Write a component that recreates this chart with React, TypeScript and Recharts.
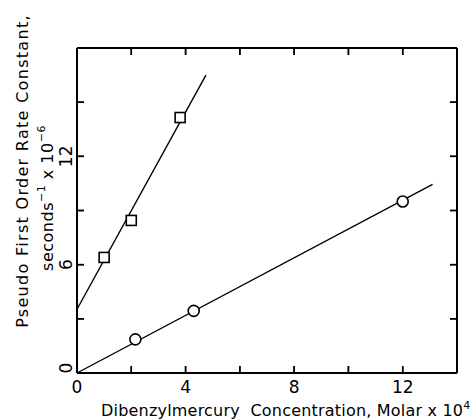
import React from "react";
import { ComposedChart, Scatter, XAxis, YAxis, Label, ReferenceLine } from "recharts";

// axis ticks (all drawn inward) and the ones that carry a number
const xTicks = [0, 2, 4, 6, 8, 10, 12, 14];
const xLabeled = [0, 4, 8, 12];
const yTicks = [0, 3, 6, 9, 12, 15, 18];
const yLabeled = [0, 6, 12];

// measured points
const squarePoints = [
  { x: 1.0, y: 6.4 },
  { x: 2.0, y: 8.45 },
  { x: 3.8, y: 14.15 },
];
const circlePoints = [
  { x: 2.15, y: 1.86 },
  { x: 4.3, y: 3.44 },
  { x: 12.0, y: 9.5 },
];

// straight lines drawn through each set
const squareFit = [
  { x: 0, y: 3.53 },
  { x: 4.75, y: 16.5 },
];
const circleFit = [
  { x: 0, y: 0 },
  { x: 13.1, y: 10.45 },
];

const X_MAX = 14;
const Y_MAX = 18;
// inward tick length, in axis units (about 7px)
const TICK_DX = 0.26;
const TICK_DY = 0.39;

const FONT = "'DejaVu Sans', sans-serif";
const TICK_LEN = 7;

const BottomTick = (props: any) => {
  const { x, y, payload } = props;
  const show = xLabeled.includes(payload.value);
  return (
    <g>
      <line x1={x} y1={y} x2={x} y2={y - TICK_LEN} stroke="#000" strokeWidth={1.5} />
      {show ? (
        <text x={x} y={y + 20} textAnchor="middle" fontSize={17} fontFamily={FONT} fill="#000">
          {payload.value}
        </text>
      ) : null}
    </g>
  );
};

const TopTick = (props: any) => (
  <g>
    <line x1={props.x} y1={props.y} x2={props.x} y2={props.y + TICK_LEN} stroke="#000" strokeWidth={1.5} />
  </g>
);

const LeftTick = (props: any) => {
  const { x, y, payload } = props;
  const show = yLabeled.includes(payload.value);
  const lx = x - 11;
  const ly = payload.value === 0 ? y - 5 : y;
  return (
    <g>
      <line x1={x} y1={y} x2={x + TICK_LEN} y2={y} stroke="#000" strokeWidth={1.5} />
      {show ? (
        <text
          x={lx}
          y={ly}
          transform={`rotate(-90 ${lx} ${ly})`}
          textAnchor="middle"
          dominantBaseline="central"
          fontSize={17}
          fontFamily={FONT}
          fill="#000"
        >
          {payload.value}
        </text>
      ) : null}
    </g>
  );
};

const RightTick = (props: any) => (
  <g>
    <line x1={props.x} y1={props.y} x2={props.x - TICK_LEN} y2={props.y} stroke="#000" strokeWidth={1.5} />
  </g>
);

const Square = (props: any) => (
  <rect x={props.cx - 5} y={props.cy - 5} width={10} height={10} fill="#fff" stroke="#000" strokeWidth={1.6} />
);
const Circle = (props: any) => (
  <circle cx={props.cx} cy={props.cy} r={5.5} fill="#fff" stroke="#000" strokeWidth={1.6} />
);
const NoShape = () => <g />;

const XTitle = (props: any) => (
  <text
    x={props.viewBox.x + 24}
    y={props.viewBox.y + 43}
    fontSize={16}
    fontFamily={FONT}
    letterSpacing={0.2}
    fill="#000"
  >
    Dibenzylmercury&#160;&#160;Concentration, Molar x 10
    <tspan fontSize={11} dy={-7}>4</tspan>
  </text>
);

const YTitle = (props: any) => {
  const x1 = props.viewBox.x + 22;
  const x2 = props.viewBox.x + 47;
  return (
    <g fontFamily={FONT} fill="#000">
      <text
        x={x1}
        y={171}
        transform={`rotate(-90 ${x1} 171)`}
        textAnchor="middle"
        dominantBaseline="central"
        fontSize={16}
        letterSpacing={1.3}
      >
        Pseudo First Order Rate Constant,
      </text>
      <text
        x={x2}
        y={198}
        transform={`rotate(-90 ${x2} 198)`}
        textAnchor="middle"
        dominantBaseline="central"
        fontSize={16}
        letterSpacing={0.5}
      >
        seconds<tspan fontSize={11} dy={-6}>−1</tspan>
        <tspan dy={6}> x 10</tspan>
        <tspan fontSize={11} dy={-6}>−6</tspan>
      </text>
    </g>
  );
};

export default function App() {
  const innerX = xTicks.filter((v) => v > 0 && v < X_MAX);
  const innerY = yTicks.filter((v) => v > 0 && v < Y_MAX);
  return (
    <div style={{ position: "absolute", left: 0, top: 0, width: 474, height: 419, background: "#fff" }}>
      <ComposedChart width={474} height={419} margin={{ top: 47, right: 16, bottom: 0, left: 0 }}>
        <XAxis
          xAxisId="main"
          dataKey="x"
          type="number"
          domain={[0, X_MAX]}
          ticks={xTicks}
          interval={0}
          height={46}
          tickSize={0}
          tickMargin={0}
          tickLine={false}
          axisLine={{ stroke: "#000", strokeWidth: 2 }}
          tick={<BottomTick />}
        >
          <Label content={<XTitle />} />
        </XAxis>
        <XAxis
          xAxisId="top"
          dataKey="x"
          type="number"
          orientation="top"
          domain={[0, X_MAX]}
          ticks={xTicks}
          interval={0}
          height={1}
          tickSize={0}
          tickMargin={0}
          tickLine={false}
          axisLine={{ stroke: "#000", strokeWidth: 2 }}
          tick={<TopTick />}
        />
        <YAxis
          yAxisId="left"
          dataKey="y"
          type="number"
          domain={[0, Y_MAX]}
          ticks={yTicks}
          interval={0}
          width={77}
          tickSize={0}
          tickMargin={0}
          tickLine={false}
          axisLine={{ stroke: "#000", strokeWidth: 2 }}
          tick={<LeftTick />}
        >
          <Label content={<YTitle />} />
        </YAxis>
        <YAxis
          yAxisId="right"
          dataKey="y"
          type="number"
          orientation="right"
          domain={[0, Y_MAX]}
          ticks={yTicks}
          interval={0}
          width={1}
          tickSize={0}
          tickMargin={0}
          tickLine={false}
          axisLine={{ stroke: "#000", strokeWidth: 2 }}
          tick={<RightTick />}
        />

        {/* inward tick marks on the frame */}
        {innerX.map((v) => (
          <ReferenceLine
            key={`b${v}`}
            xAxisId="main"
            yAxisId="left"
            segment={[{ x: v, y: 0 }, { x: v, y: TICK_DY }]}
            stroke="#000"
            strokeWidth={1.5}
          />
        ))}
        {innerX.map((v) => (
          <ReferenceLine
            key={`t${v}`}
            xAxisId="main"
            yAxisId="left"
            segment={[{ x: v, y: Y_MAX }, { x: v, y: Y_MAX - TICK_DY }]}
            stroke="#000"
            strokeWidth={1.5}
          />
        ))}
        {innerY.map((v) => (
          <ReferenceLine
            key={`l${v}`}
            xAxisId="main"
            yAxisId="left"
            segment={[{ x: 0, y: v }, { x: TICK_DX, y: v }]}
            stroke="#000"
            strokeWidth={1.5}
          />
        ))}
        {innerY.map((v) => (
          <ReferenceLine
            key={`r${v}`}
            xAxisId="main"
            yAxisId="left"
            segment={[{ x: X_MAX, y: v }, { x: X_MAX - TICK_DX, y: v }]}
            stroke="#000"
            strokeWidth={1.5}
          />
        ))}

        {/* invisible series so the frame axes get their ticks */}
        <Scatter xAxisId="top" yAxisId="right" data={squareFit} shape={<NoShape />} isAnimationActive={false} />

        <Scatter
          xAxisId="main"
          yAxisId="left"
          data={squareFit}
          line={{ stroke: "#000", strokeWidth: 1.4 }}
          shape={<NoShape />}
          isAnimationActive={false}
        />
        <Scatter
          xAxisId="main"
          yAxisId="left"
          data={circleFit}
          line={{ stroke: "#000", strokeWidth: 1.4 }}
          shape={<NoShape />}
          isAnimationActive={false}
        />
        <Scatter xAxisId="main" yAxisId="left" data={squarePoints} shape={<Square />} isAnimationActive={false} />
        <Scatter xAxisId="main" yAxisId="left" data={circlePoints} shape={<Circle />} isAnimationActive={false} />
      </ComposedChart>
    </div>
  );
}
